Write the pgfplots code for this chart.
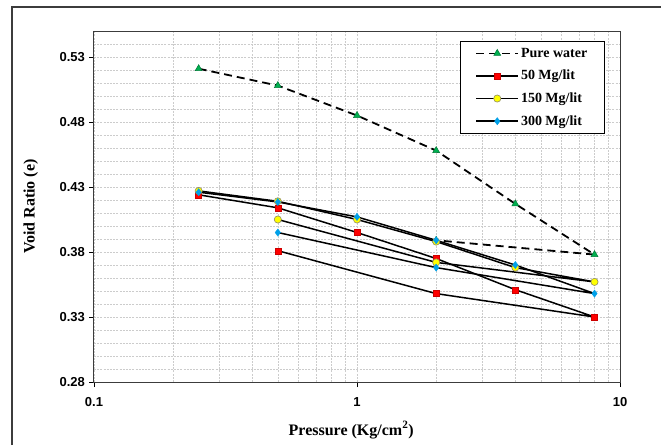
\documentclass[border=0pt]{standalone}
\usepackage{fontspec}
\setmainfont{Liberation Serif}
\setsansfont{Liberation Sans}
\usepackage{pgfplots}
\pgfplotsset{compat=1.18}
\definecolor{WaterGreen}{HTML}{00B050}
\definecolor{MgRed}{HTML}{FF0000}
\definecolor{MgYellow}{HTML}{FFFF00}
\definecolor{MgBlue}{HTML}{00A0E8}
\definecolor{GridGrey}{HTML}{CCCCCC}
\definecolor{Frame}{HTML}{3C3C3C}

\begin{document}
\begin{tikzpicture}
\useasboundingbox (0,0) rectangle (661pt,445pt);
% outer frame (cropped at right and bottom in the original)
\draw[Frame, line width=1.6pt] (12pt,0pt) -- (12pt,438pt) -- (661pt,438pt);
\begin{axis}[
  at={(94pt,63pt)}, anchor=south west,
  scale only axis, width=526pt, height=351pt,
  xmode=log, xmin=0.1, xmax=10,
  ymin=0.28, ymax=0.55,
  xtick={0.1,1,10}, xticklabels={0.1,1,10},
  minor xtick={0.2,0.3,0.4,0.5,0.6,0.7,0.8,0.9,2,3,4,5,6,7,8,9},
  ytick={0.28,0.33,0.38,0.43,0.48,0.53},
  minor ytick={0.29,0.30,0.31,0.32,0.34,0.35,0.36,0.37,0.39,0.40,0.41,0.42,0.44,0.45,0.46,0.47,0.49,0.50,0.51,0.52,0.54,0.55},
  yticklabel style={/pgf/number format/.cd, fixed, fixed zerofill, precision=2},
  /pgf/number format/assume math mode=true,
  ticklabel style={font=\fontsize{13}{15}\selectfont\sffamily\bfseries},
  xticklabel style={yshift=-6pt},
  grid=both,
  major grid style={GridGrey, dash pattern=on 2pt off 1.2pt, line width=0.6pt},
  minor grid style={GridGrey, dash pattern=on 2pt off 1.2pt, line width=0.6pt},
  tick align=outside, major tick length=5pt, minor tick length=0pt,
  xtick pos=left, ytick pos=left,
  tick style={black, line width=0.9pt},
  axis line style={Frame, line width=1pt},
  xlabel={Pressure (Kg/cm\textsuperscript{2})},
  ylabel={Void Ratio (e)},
  every axis x label/.style={at={(axis description cs:0.489,-0.137)}, anchor=center,
    font=\fontsize{16}{18}\selectfont\bfseries},
  every axis y label/.style={at={(axis description cs:-0.12,0.5)}, rotate=90, anchor=center,
    font=\fontsize{16}{18}\selectfont\bfseries},
  legend style={at={(0.97,0.97)}, anchor=north east, draw=black, line width=1.2pt,
    outer sep=0pt, fill=white, font=\fontsize{14}{16}\selectfont\bfseries, row sep=7.5pt,
    inner xsep=15pt, inner ysep=4.5pt, cells={anchor=west}},
  legend image code/.code={%
    \draw[line width=1.5pt, mark repeat=2, mark phase=2] plot coordinates {(0pt,0pt) (21pt,0pt) (42pt,0pt)};},
  line width=1.5pt,
]
\addplot[black, line width=1.8pt, dash pattern=on 8pt off 5pt, mark=triangle*, mark size=4pt,
  mark options={solid, fill=WaterGreen, draw=WaterGreen!70!black, line width=0.5pt}]
  coordinates {(0.25,0.521) (0.5,0.508) (1,0.485) (2,0.458) (4,0.417) (8,0.378) (2,0.389)};
\addlegendentry{Pure water}
\addplot[black, mark=square*, mark size=3pt,
  mark options={fill=MgRed, draw=MgRed!80!black, line width=0.4pt}]
  coordinates {(0.25,0.424) (0.5,0.414) (1,0.395) (2,0.375) (4,0.351) (8,0.330) (2,0.348) (0.5,0.381)};
\addlegendentry{50 Mg/lit}
\addplot[black, mark=*, mark size=3.6pt,
  mark options={fill=MgYellow, draw=gray!70!olive, line width=0.6pt}]
  coordinates {(0.25,0.427) (0.5,0.419) (1,0.405) (2,0.388) (4,0.368) (8,0.357) (2,0.372) (0.5,0.405)};
\addlegendentry{150 Mg/lit}
\addplot[black, mark=diamond*, mark size=3.6pt,
  mark options={fill=MgBlue, draw=MgBlue, line width=0.4pt}]
  coordinates {(0.25,0.426) (0.5,0.4185) (1,0.407) (2,0.389) (4,0.370) (8,0.348) (2,0.368) (0.5,0.395)};
\addlegendentry{300 Mg/lit}
\end{axis}
\end{tikzpicture}
\end{document}
